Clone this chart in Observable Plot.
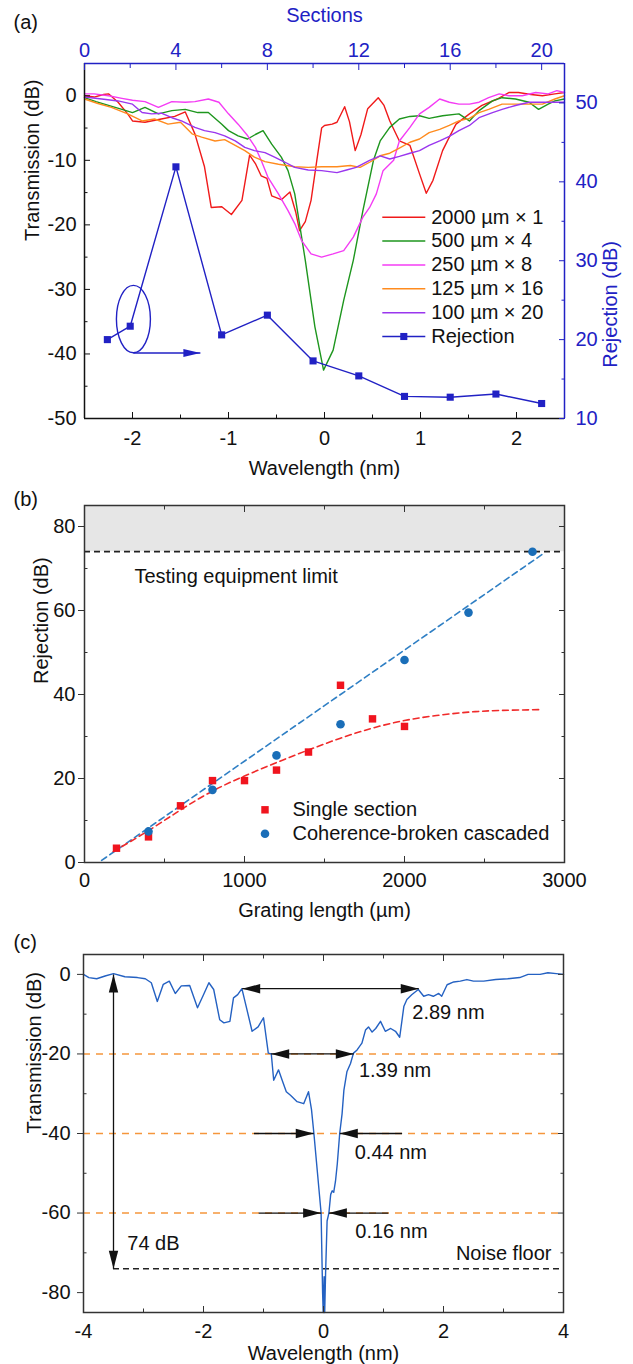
<!DOCTYPE html>
<html><head><meta charset="utf-8">
<script src="https://cdn.jsdelivr.net/npm/d3@7"></script>
<script src="https://cdn.jsdelivr.net/npm/@observablehq/plot@0.6"></script>
<style>
body{margin:0;background:#fff;}
#wrap{position:relative;width:633px;height:1364px;overflow:hidden;}
#wrap svg{position:absolute;left:0;overflow:visible;}
</style></head><body><div id="wrap"></div>
<script>
// ---------------- Panel (a) data ----------------
const wlDomainA = [-2.5, 2.5];
const tDomainA = [-50, 5];
const secDomain = [0, 21];
const rejDomainA = [10, 55];
const wlMajorA = [-2, -1, 0, 1, 2];
const wlMinorA = [-1.5, -0.5, 0.5, 1.5];
const tMajorA = [-50, -40, -30, -20, -10, 0];
const tMinorA = [-45, -35, -25, -15, -5];
const secMajor = [0, 4, 8, 12, 16, 20];
const secMinor = [2, 6, 10, 14, 18];
const rejMajorA = [10, 20, 30, 40, 50];
const rejMinorA = [15, 25, 35, 45];

const wlRed = [-2.5,-2.4,-2.3,-2.25,-2.15,-2.05,-2.0,-1.87,-1.7,-1.56,-1.45,-1.35,-1.25,-1.18,-1.07,-0.97,-0.86,-0.78,-0.72,-0.66,-0.6,-0.55,-0.45,-0.36,-0.3,-0.26,-0.2,-0.14,-0.08,-0.03,0.0,0.08,0.13,0.21,0.26,0.32,0.38,0.45,0.56,0.62,0.68,0.78,0.89,0.99,1.06,1.13,1.23,1.3,1.37,1.51,1.64,1.8,1.92,2.02,2.15,2.27,2.4,2.5];
const tRed = [0,-0.2,0.2,0.3,-1.0,-2.8,-3.9,-4.1,-3.6,-3.2,-2.5,-5.9,-11,-17.3,-17.2,-18.4,-16.2,-9.2,-10.5,-12.4,-12.8,-15.5,-16.1,-14.9,-18,-20.9,-19.5,-16.2,-10,-5,-4.6,-4.4,-4.1,-1.7,-4,-8.5,-6,-2,-0.3,-1.5,-3.9,-7,-7.7,-12.1,-15.1,-13.1,-8.5,-6.4,-4.4,-2.8,-1.5,-0.5,0.5,0.5,0.2,0,0.3,0.5];

const wlGreen = [-2.5,-2.38,-2.25,-2.11,-2.0,-1.87,-1.73,-1.59,-1.45,-1.32,-1.21,-1.07,-1.0,-0.9,-0.8,-0.72,-0.64,-0.55,-0.45,-0.38,-0.31,-0.2,-0.1,-0.03,-0.01,0.09,0.2,0.3,0.4,0.51,0.58,0.68,0.78,0.89,0.99,1.09,1.23,1.4,1.51,1.61,1.75,1.85,1.99,2.13,2.23,2.33,2.4,2.5];
const tGreen = [-0.3,-0.9,-1.5,-2.1,-2.6,-1.8,-2.8,-2.3,-2.1,-2.6,-2.6,-4.4,-5.4,-6.2,-6.7,-6.0,-5.4,-7.5,-9.5,-11.6,-15.2,-25.5,-35.8,-41,-42.5,-39.4,-31.7,-25.5,-17.8,-10,-7,-4.9,-3.6,-3.2,-3.1,-3.5,-3.1,-2.8,-3.9,-2.3,-0.8,-0.3,-0.5,-1.0,-2.1,-1.3,-0.8,-0.5];

const wlMag = [-2.5,-2.4,-2.25,-2.11,-2.0,-1.87,-1.73,-1.59,-1.45,-1.35,-1.21,-1.1,-1.0,-0.9,-0.8,-0.72,-0.66,-0.59,-0.48,-0.38,-0.31,-0.24,-0.14,-0.03,0.09,0.2,0.3,0.4,0.47,0.54,0.61,0.72,0.78,0.89,0.99,1.09,1.2,1.3,1.4,1.51,1.61,1.71,1.82,1.92,2.06,2.2,2.33,2.42,2.5];
const tMag = [0.3,0.3,0,-0.4,-0.7,-0.9,-1.8,-0.9,-1.0,-0.9,-0.5,-1.0,-2.8,-4.4,-6.2,-8,-10,-12.6,-15.2,-17.8,-19.8,-22.4,-24.5,-25,-24.5,-24,-21.9,-18.8,-17.3,-15.2,-11.6,-10,-7,-4.9,-2.8,-1.8,-0.5,-1,-1.3,-1.3,-1.0,-0.3,0.3,0,0,0.5,0.3,0.8,0.5];

const wlOr = [-2.5,-2.36,-2.22,-2.05,-1.9,-1.77,-1.63,-1.5,-1.38,-1.28,-1.14,-1.04,-0.93,-0.83,-0.73,-0.62,-0.48,-0.31,-0.17,-0.03,0.13,0.27,0.37,0.47,0.58,0.68,0.78,0.89,0.99,1.09,1.2,1.3,1.4,1.51,1.61,1.71,1.85,1.99,2.13,2.27,2.4,2.5];
const tOr = [-0.5,-1.2,-1.8,-2.8,-3.9,-3.6,-4.4,-4.1,-5.9,-6.4,-7,-6.8,-7.7,-8.5,-9.5,-10.2,-10.6,-11,-11.1,-11,-11,-10.8,-11.1,-10.3,-9.3,-8.9,-8.1,-7.2,-6.7,-5.7,-5.2,-4.6,-3.9,-3.5,-2.6,-2.1,-1.3,-1.3,-1.3,-1.3,-0.5,0];

const wlPu = [-2.5,-2.32,-2.15,-2.0,-1.9,-1.8,-1.7,-1.59,-1.49,-1.35,-1.25,-1.14,-1.04,-0.93,-0.83,-0.73,-0.62,-0.52,-0.41,-0.31,-0.17,-0.03,0.13,0.23,0.33,0.47,0.58,0.68,0.78,0.89,0.99,1.09,1.2,1.3,1.4,1.51,1.61,1.75,1.85,1.99,2.13,2.27,2.4,2.5];
const tPu = [-0.2,-0.5,-0.8,-1.3,-2.6,-2.8,-2.7,-3.4,-3.9,-4.9,-5.4,-5.7,-6.2,-7,-8,-8.5,-8.8,-9.5,-10.3,-11.1,-11.5,-11.6,-11.9,-11.5,-11.1,-10,-9.3,-9.8,-9.4,-8.9,-8.5,-7.7,-7,-6.3,-5.4,-4.6,-3.4,-2.6,-2.1,-1.5,-1.0,-1.0,-1.0,-1.0];

const seriesLabelsA = ["2000 µm × 1", "500 µm × 4", "250 µm × 8", "125 µm × 16", "100 µm × 20"];
const rejLabelA = "Rejection";
const rejSections = [1, 2, 4, 6, 8, 10, 12, 14, 16, 18, 20];
const rejValues = [20.0, 21.7, 41.9, 20.6, 23.1, 17.3, 15.4, 12.8, 12.7, 13.1, 11.9];
// annotation: ellipse around the 2-section point and arrow to the right axis
const ellipseSec = [2.14];
const ellipseRej = [22.6];
const arrowASec = [2.14, 5.07];
const arrowARej = [18.3];

// ---------------- Panel (b) data ----------------
const lenDomain = [0, 3000];
const rejDomainB = [0, 85];
const lenMajor = [0, 1000, 2000, 3000];
const lenMinor = [500, 1500, 2500];
const rejMajorB = [0, 20, 40, 60, 80];
const rejMinorB = [10, 30, 50, 70];
const singleLen = [200, 400, 600, 800, 1000, 1200, 1400, 1600, 1800, 2000];
const singleRej = [3.4, 6.1, 13.5, 19.5, 19.5, 22.0, 26.3, 42.2, 34.2, 32.4];
const cascLen = [400, 800, 1200, 1600, 2000, 2400, 2800];
const cascRej = [7.4, 17.3, 25.5, 32.9, 48.2, 59.5, 74.0];
const linFitLen = [107, 2866];
const linFitRej = [0.5, 73.5];
const satFitLen = [180, 400, 600, 800, 1000, 1200, 1400, 1600, 1800, 2000, 2200, 2400, 2600, 2850];
const satFitRej = [2.6, 7.6, 12.5, 17.0, 20.6, 23.8, 26.8, 29.6, 32.0, 33.8, 35.0, 35.8, 36.2, 36.4];
const equipLimit = [74];
const limitText = ["Testing equipment limit"];
const limitTextLen = [312];
const limitTextRej = [68.1];
const legendLabelsB = ["Single section", "Coherence-broken cascaded"];

// ---------------- Panel (c) data ----------------
const wlDomainC = [-4, 4];
const tDomainC = [-85, 5];
const wlMajorC = [-4, -2, 0, 2, 4];
const wlMinorC = [-3, -1, 1, 3];
const tMajorC = [-80, -60, -40, -20, 0];
const tMinorC = [-70, -50, -30, -10];
const cWl = [-4.0,-3.91,-3.78,-3.64,-3.5,-3.31,-3.1,-2.97,-2.87,-2.77,-2.67,-2.57,-2.47,-2.37,-2.23,-2.1,-2.0,-1.91,-1.83,-1.73,-1.66,-1.56,-1.5,-1.43,-1.36,-1.29,-1.19,-1.09,-1.0,-0.92,-0.87,-0.83,-0.75,-0.68,-0.62,-0.55,-0.44,-0.33,-0.25,-0.2,-0.16,-0.1,-0.04,-0.03,-0.015,-0.005,0.01,0.02,0.035,0.06,0.09,0.12,0.145,0.17,0.2,0.23,0.27,0.31,0.34,0.39,0.45,0.5,0.56,0.64,0.7,0.75,0.81,0.87,0.95,1.03,1.12,1.2,1.27,1.34,1.39,1.47,1.58,1.67,1.75,1.83,1.92,1.97,2.06,2.17,2.28,2.39,2.5,2.67,2.87,3.07,3.27,3.41,3.61,3.74,3.88,4.0];
const cT = [0,-0.8,-1.1,-0.4,0.2,-0.6,-0.8,-1.1,-2.1,-6.8,-2.5,-1.7,-4.8,-2.9,-2.8,-8.4,-5.1,-2.1,-3.8,-11.4,-12.2,-11.8,-5.9,-5.1,-3.6,-8,-14.3,-13.2,-10.9,-19.8,-20,-26.6,-24,-27,-29.5,-30.4,-32,-32.5,-29.5,-34,-40,-50,-60,-68,-80,-85,-76,-85,-75,-62,-60,-55.3,-54.4,-54.8,-52,-47.6,-40,-35,-29.1,-24.5,-22.4,-19.8,-19.0,-17.3,-14,-13.2,-14.5,-13.6,-11.8,-14.3,-13.6,-14.3,-15.8,-8,-6.3,-5.1,-3.8,-5.5,-5.1,-5.5,-4.8,-5.5,-2.6,-1.9,-1.7,-1.3,-1.7,-1.7,-1.3,-1.1,-0.8,0,0,0.4,0.2,0];
const levelsC = [-20, -40, -60];
const noiseFloor = [-74];
// double-headed width arrows (2.89 nm, 1.39 nm)
const dblX1 = [-1.355, -0.872];
const dblX2 = [1.588, 0.505];
const dblY = [-3.6, -20];
// inward arrows (0.44 nm, 0.16 nm)
const inLeftFrom = [-1.16, -1.08];
const inLeftTip = [-0.162, -0.04];
const inRightFrom = [1.31, 1.08];
const inRightTip = [0.272, 0.09];
const inY = [-40, -60];
// 74 dB arrow
const depthX = [-3.5];
const depthTop = [0];
const depthBottom = [-74];
const widthLabels = ["2.89 nm", "1.39 nm", "0.44 nm", "0.16 nm"];
const widthLabelX = [1.48, 0.59, 0.52, 0.53];
const widthLabelY = [-9.6, -24.2, -44.8, -64.6];
const depthLabel = ["74 dB"];
const depthLabelX = [-3.27];
const depthLabelY = [-67.8];
const floorLabel = ["Noise floor"];
const floorLabelX = [3.8];
const floorLabelY = [-70.1];

// ---------------- styles ----------------
const FONT = "'Liberation Sans', Arial, Helvetica, sans-serif";
const BLUE = "#2121c4";
const INK = "#111";
const colorsA = ["#f01a1a", "#1e961e", "#f43cf4", "#ff8b1e", "#9a36ee"];
const RED_B = "#f0141e", BLUE_B = "#1a6eb8";
const CURVE_C = "#2461c2", ORANGE_C = "#f5963c";
const fmt = d => String(d);
const blank = () => "";
const style = () => ({fontFamily: FONT, fontSize: "20px", background: "transparent", overflow: "visible", color: INK});

// custom symbols
const headSym = (L, W) => ({draw(ctx) { ctx.moveTo(0, 0); ctx.lineTo(-L, -W); ctx.lineTo(-L, W); ctx.closePath(); }});
const lineSym = (h) => ({draw(ctx) { ctx.moveTo(-h, 0); ctx.lineTo(h, 0); }});
const ellipseSym = (rx, ry) => ({draw(ctx) {
  const k = 0.5523;
  ctx.moveTo(rx, 0);
  ctx.bezierCurveTo(rx, ry * k, rx * k, ry, 0, ry);
  ctx.bezierCurveTo(-rx * k, ry, -rx, ry * k, -rx, 0);
  ctx.bezierCurveTo(-rx, -ry * k, -rx * k, -ry, 0, -ry);
  ctx.bezierCurveTo(rx * k, -ry, rx, -ry * k, rx, 0);
  ctx.closePath();
}});

const zip = (xs, ys) => xs.map((x, i) => ({x, y: ys[i]}));
const wrap = document.getElementById("wrap");
function place(svg, top) { svg.style.top = top + "px"; wrap.appendChild(svg); }

// ---------------- Panel (a), layer 1: transmission ----------------
const seriesA = [[wlRed, tRed], [wlGreen, tGreen], [wlMag, tMag], [wlOr, tOr], [wlPu, tPu]];
const A1 = Plot.plot({
  width: 633, height: 480, marginTop: 63, marginBottom: 62, marginLeft: 84, marginRight: 69,
  style: style(),
  x: {domain: wlDomainA}, y: {domain: tDomainA},
  marks: [
    ...seriesA.map(([w, t], i) => Plot.line(zip(w, t), {x: "x", y: "y", stroke: colorsA[i], strokeWidth: 1.4})),
    Plot.axisX(wlMajorA, {anchor: "bottom", tickSize: -6, tickPadding: 18, tickFormat: fmt, label: null, stroke: INK, fill: INK}),
    Plot.axisX(wlMinorA, {anchor: "bottom", tickSize: -3.5, tickFormat: blank, label: null, stroke: INK}),
    Plot.axisY(tMajorA, {anchor: "left", tickSize: -6, tickPadding: 14, tickFormat: fmt, label: null, stroke: INK, fill: INK}),
    Plot.axisY(tMinorA, {anchor: "left", tickSize: -3.5, tickFormat: blank, label: null, stroke: INK}),
    Plot.ruleX([wlDomainA[0]], {stroke: INK, strokeWidth: 1.5}),
    Plot.ruleY([tDomainA[0]], {stroke: INK, strokeWidth: 1.5}),
    Plot.text(["Wavelength (nm)"], {text: d => d, frameAnchor: "bottom", dy: 50, lineAnchor: "middle", fill: INK}),
    Plot.text(["Transmission (dB)"], {text: d => d, frameAnchor: "left", dx: -52, rotate: -90, lineAnchor: "middle", fill: INK}),
    Plot.text(["(a)"], {text: d => d, frameAnchor: "top-left", dx: -71, dy: -41, textAnchor: "start", lineAnchor: "middle", fill: INK})
  ]
});
place(A1, 0);

// ---------------- Panel (a), layer 2: rejection vs sections ----------------
const legendMarks = [];
const legendColors = [...colorsA, BLUE];
[...seriesLabelsA, rejLabelA].forEach((lab, i) => {
  const dy = 153.7 + i * 23.86;
  legendMarks.push(Plot.dot([0], {frameAnchor: "top-left", dx: 319.3, dy, symbol: lineSym(21.5), stroke: legendColors[i], strokeWidth: 1.5, fill: "none"}));
  if (i === 5) legendMarks.push(Plot.dot([0], {frameAnchor: "top-left", dx: 319.3, dy, symbol: "square", r: 4, fill: BLUE, stroke: "none"}));
  legendMarks.push(Plot.text([lab], {text: d => d, frameAnchor: "top-left", dx: 346.7, dy, textAnchor: "start", lineAnchor: "middle", fill: INK}));
});
const A2 = Plot.plot({
  width: 633, height: 480, marginTop: 63, marginBottom: 62, marginLeft: 84, marginRight: 69,
  style: style(),
  x: {domain: secDomain}, y: {domain: rejDomainA},
  marks: [
    Plot.line(zip(rejSections, rejValues), {x: "x", y: "y", stroke: BLUE, strokeWidth: 1.4}),
    Plot.dot(zip(rejSections, rejValues), {x: "x", y: "y", symbol: "square", r: 4, fill: BLUE, stroke: "none"}),
    Plot.dot(zip(ellipseSec, ellipseRej), {x: "x", y: "y", symbol: ellipseSym(17, 33.7), stroke: BLUE, fill: "none", strokeWidth: 1.4}),
    Plot.link([0], {x1: arrowASec[0], x2: arrowASec[1], y1: arrowARej[0], y2: arrowARej[0], stroke: BLUE, strokeWidth: 1.4}),
    Plot.dot([0], {x: arrowASec[1], y: arrowARej[0], symbol: headSym(17, 4), fill: BLUE, stroke: "none"}),
    Plot.axisX(secMajor, {anchor: "top", tickSize: -6, tickPadding: 13, tickFormat: fmt, label: null, stroke: BLUE, fill: BLUE}),
    Plot.axisX(secMinor, {anchor: "top", tickSize: -4, tickFormat: blank, label: null, stroke: BLUE}),
    Plot.axisY(rejMajorA, {anchor: "right", tickSize: -6, tickPadding: 17, tickFormat: fmt, label: null, stroke: BLUE, fill: BLUE}),
    Plot.axisY(rejMinorA, {anchor: "right", tickSize: -3.5, tickFormat: blank, label: null, stroke: BLUE}),
    Plot.ruleX([secDomain[1]], {stroke: BLUE, strokeWidth: 1.5}),
    Plot.ruleY([rejDomainA[1]], {stroke: BLUE, strokeWidth: 1.5}),
    Plot.text(["Sections"], {text: d => d, frameAnchor: "top", dy: -48, lineAnchor: "middle", fill: BLUE}),
    Plot.text(["Rejection (dB)"], {text: d => d, frameAnchor: "right", dx: 46, rotate: -90, lineAnchor: "middle", fill: BLUE}),
    ...legendMarks
  ]
});
place(A2, 0);

// ---------------- Panel (b) ----------------
const B = Plot.plot({
  width: 633, height: 460, marginTop: 35, marginBottom: 68, marginLeft: 84, marginRight: 69,
  style: style(),
  x: {domain: lenDomain}, y: {domain: rejDomainB},
  marks: [
    Plot.rect(equipLimit, {x1: lenDomain[0], x2: lenDomain[1], y1: d => d, y2: rejDomainB[1], fill: "#e6e6e6"}),
    Plot.ruleY(equipLimit, {stroke: "#222", strokeWidth: 1.8, strokeDasharray: "6,4"}),
    Plot.line(zip(linFitLen, linFitRej), {x: "x", y: "y", stroke: "#2f7fc4", strokeWidth: 1.6, strokeDasharray: "6,4"}),
    Plot.line(zip(satFitLen, satFitRej), {x: "x", y: "y", stroke: "#f02a2a", strokeWidth: 1.6, strokeDasharray: "6,4", curve: "natural"}),
    Plot.dot(zip(singleLen, singleRej), {x: "x", y: "y", symbol: "square", r: 4.2, fill: RED_B, stroke: "none"}),
    Plot.dot(zip(cascLen, cascRej), {x: "x", y: "y", symbol: "circle", r: 4.3, fill: BLUE_B, stroke: "none"}),
    Plot.text(limitText, {text: d => d, x: limitTextLen, y: limitTextRej, textAnchor: "start", lineAnchor: "middle", fill: INK}),
    Plot.axisX(lenMajor, {anchor: "bottom", tickSize: -6, tickPadding: 16, tickFormat: fmt, label: null, stroke: "#333", fill: INK}),
    Plot.axisX(lenMinor, {anchor: "bottom", tickSize: -3.5, tickFormat: blank, label: null, stroke: "#333"}),
    Plot.axisX(lenMajor, {anchor: "top", tickSize: -6, tickFormat: blank, label: null, stroke: "#333"}),
    Plot.axisX(lenMinor, {anchor: "top", tickSize: -3.5, tickFormat: blank, label: null, stroke: "#333"}),
    Plot.axisY(rejMajorB, {anchor: "left", tickSize: 6, tickPadding: 3, tickFormat: fmt, label: null, stroke: "#333", fill: INK}),
    Plot.axisY(rejMinorB, {anchor: "left", tickSize: -3.5, tickFormat: blank, label: null, stroke: "#333"}),
    Plot.axisY(rejMajorB, {anchor: "right", tickSize: -6, tickFormat: blank, label: null, stroke: "#333"}),
    Plot.axisY(rejMinorB, {anchor: "right", tickSize: -3.5, tickFormat: blank, label: null, stroke: "#333"}),
    Plot.frame({stroke: "#333", strokeWidth: 1.5}),
    Plot.dot([0], {frameAnchor: "bottom-left", dx: 180.5, dy: -52.7, symbol: "square", r: 4.2, fill: RED_B, stroke: "none"}),
    Plot.dot([0], {frameAnchor: "bottom-left", dx: 180.5, dy: -28.7, symbol: "circle", r: 4.3, fill: BLUE_B, stroke: "none"}),
    Plot.text([legendLabelsB[0]], {text: d => d, frameAnchor: "bottom-left", dx: 208, dy: -52.7, textAnchor: "start", lineAnchor: "middle", fill: INK}),
    Plot.text([legendLabelsB[1]], {text: d => d, frameAnchor: "bottom-left", dx: 208, dy: -28.7, textAnchor: "start", lineAnchor: "middle", fill: INK}),
    Plot.text(["Grating length (µm)"], {text: d => d, frameAnchor: "bottom", dy: 48, lineAnchor: "middle", fill: INK}),
    Plot.text(["Rejection (dB)"], {text: d => d, frameAnchor: "left", dx: -43, rotate: -90, lineAnchor: "middle", fill: INK}),
    Plot.text(["(b)"], {text: d => d, frameAnchor: "top-left", dx: -71, dy: -6, textAnchor: "start", lineAnchor: "middle", fill: INK})
  ]
});
place(B, 470);

// ---------------- Panel (c) ----------------
const HEAD = headSym(18, 4.7);
const C = Plot.plot({
  width: 633, height: 444, marginTop: 34, marginBottom: 52, marginLeft: 83, marginRight: 70,
  style: style(),
  x: {domain: wlDomainC}, y: {domain: tDomainC},
  marks: [
    Plot.ruleY(levelsC, {stroke: ORANGE_C, strokeWidth: 1.6, strokeDasharray: "7,6"}),
    Plot.ruleY(noiseFloor, {x1: depthX[0], x2: wlDomainC[1], stroke: "#222", strokeWidth: 1.6, strokeDasharray: "6,4"}),
    Plot.line(zip(cWl, cT), {x: "x", y: "y", stroke: CURVE_C, strokeWidth: 1.4}),
    // double-headed arrows
    Plot.link(dblY, {x1: (d, i) => dblX1[i], x2: (d, i) => dblX2[i], y1: d => d, y2: d => d, stroke: INK, strokeWidth: 1.3}),
    Plot.dot(dblY, {x: (d, i) => dblX1[i], y: d => d, symbol: HEAD, rotate: 180, fill: INK, stroke: "none"}),
    Plot.dot(dblY, {x: (d, i) => dblX2[i], y: d => d, symbol: HEAD, fill: INK, stroke: "none"}),
    // inward arrows
    Plot.link(inY, {x1: (d, i) => inLeftFrom[i], x2: (d, i) => inLeftTip[i], y1: d => d, y2: d => d, stroke: INK, strokeWidth: 1.3}),
    Plot.dot(inY, {x: (d, i) => inLeftTip[i], y: d => d, symbol: HEAD, fill: INK, stroke: "none"}),
    Plot.link(inY, {x1: (d, i) => inRightFrom[i], x2: (d, i) => inRightTip[i], y1: d => d, y2: d => d, stroke: INK, strokeWidth: 1.3}),
    Plot.dot(inY, {x: (d, i) => inRightTip[i], y: d => d, symbol: HEAD, rotate: 180, fill: INK, stroke: "none"}),
    // 74 dB arrow
    Plot.link(depthX, {x1: d => d, x2: d => d, y1: depthTop[0], y2: depthBottom[0], stroke: INK, strokeWidth: 1.3}),
    Plot.dot(depthX, {x: d => d, y: depthTop[0], symbol: HEAD, rotate: -90, fill: INK, stroke: "none"}),
    Plot.dot(depthX, {x: d => d, y: depthBottom[0], symbol: HEAD, rotate: 90, fill: INK, stroke: "none"}),
    Plot.text(widthLabels, {text: d => d, x: (d, i) => widthLabelX[i], y: (d, i) => widthLabelY[i], textAnchor: "start", lineAnchor: "middle", fill: INK}),
    Plot.text(depthLabel, {text: d => d, x: depthLabelX, y: depthLabelY, textAnchor: "start", lineAnchor: "middle", fill: INK}),
    Plot.text(floorLabel, {text: d => d, x: floorLabelX, y: floorLabelY, textAnchor: "end", lineAnchor: "middle", fill: INK}),
    Plot.axisX(wlMajorC, {anchor: "bottom", tickSize: -6, tickPadding: 17, tickFormat: fmt, label: null, stroke: "#333", fill: INK}),
    Plot.axisX(wlMinorC, {anchor: "bottom", tickSize: -3.5, tickFormat: blank, label: null, stroke: "#333"}),
    Plot.axisX(wlMajorC, {anchor: "top", tickSize: -6, tickFormat: blank, label: null, stroke: "#333"}),
    Plot.axisX(wlMinorC, {anchor: "top", tickSize: -3.5, tickFormat: blank, label: null, stroke: "#333"}),
    Plot.axisY(tMajorC, {anchor: "left", tickSize: 6, tickPadding: 7, tickFormat: fmt, label: null, stroke: "#333", fill: INK}),
    Plot.axisY(tMinorC, {anchor: "left", tickSize: -3.5, tickFormat: blank, label: null, stroke: "#333"}),
    Plot.axisY(tMajorC, {anchor: "right", tickSize: -6, tickFormat: blank, label: null, stroke: "#333"}),
    Plot.axisY(tMinorC, {anchor: "right", tickSize: -3.5, tickFormat: blank, label: null, stroke: "#333"}),
    Plot.frame({stroke: "#333", strokeWidth: 1.5}),
    Plot.text(["Wavelength (nm)"], {text: d => d, frameAnchor: "bottom", dy: 41, lineAnchor: "middle", fill: INK}),
    Plot.text(["Transmission (dB)"], {text: d => d, frameAnchor: "left", dx: -49, rotate: -90, lineAnchor: "middle", fill: INK}),
    Plot.text(["(c)"], {text: d => d, frameAnchor: "top-left", dx: -70, dy: -12, textAnchor: "start", lineAnchor: "middle", fill: INK})
  ]
});
place(C, 920);
</script></body></html>
